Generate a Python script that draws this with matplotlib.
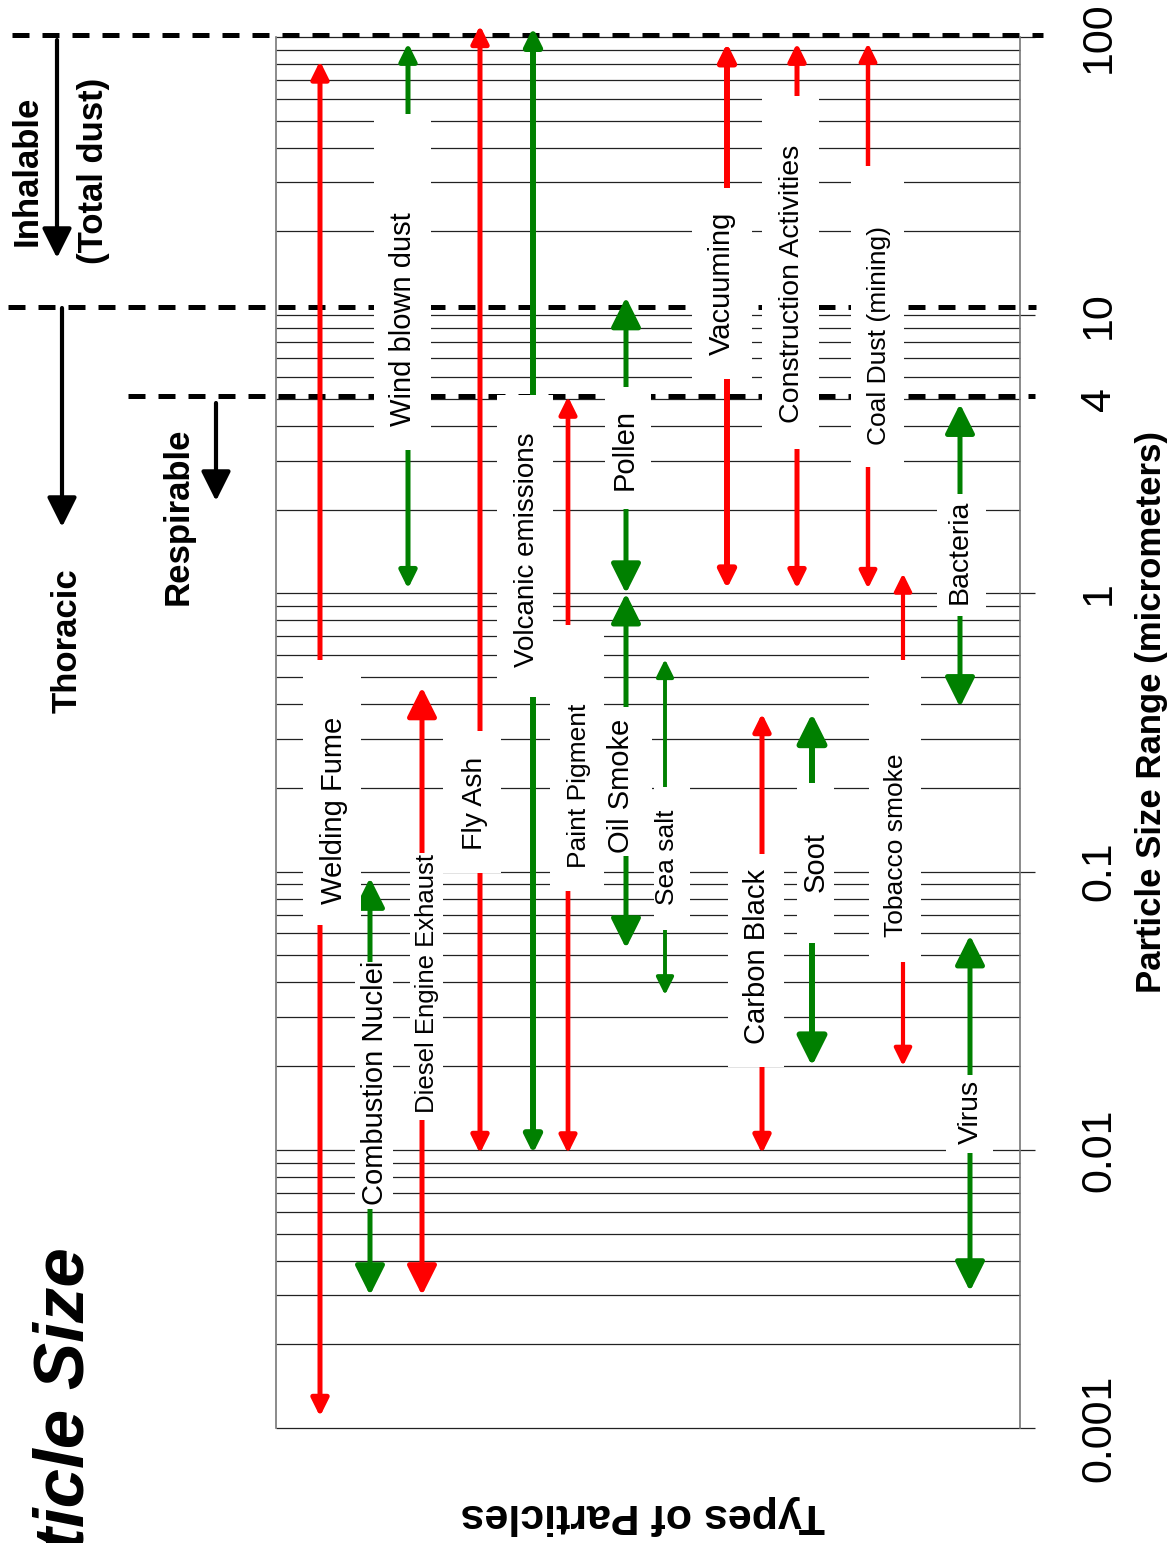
import numpy as np
import matplotlib
matplotlib.use('Agg')
import matplotlib.pyplot as plt
from matplotlib.patches import FancyArrowPatch, Rectangle
from matplotlib.ticker import NullLocator

plt.rcParams['font.family'] = ['Liberation Sans', 'DejaVu Sans']

# particle types and their size range (micrometers)
names = ['Welding Fume', 'Combustion Nuclei', 'Wind blown dust', 'Diesel Engine Exhaust',
         'Fly Ash', 'Volcanic emissions', 'Paint Pigment', 'Pollen', 'Oil Smoke', 'Sea salt',
         'Vacuuming', 'Construction Activities', 'Coal Dust (mining)', 'Carbon Black',
         'Soot', 'Tobacco smoke', 'Bacteria', 'Virus']
size_max = [82, 0.095, 95, 0.46, 110, 108, 5.1, 11.6, 1.0, 0.58,
            95, 95, 95, 0.37, 0.37, 1.18, 4.8, 0.059]
size_min = [0.0011, 0.003, 1.04, 0.003, 0.0097, 0.0097, 0.0097, 1.0, 0.053, 0.036,
            1.04, 1.04, 1.04, 0.0097, 0.02, 0.02, 0.39, 0.0031]
kind = ['r', 'g', 'g', 'r', 'r', 'g', 'r', 'g', 'g', 'g',
        'r', 'r', 'r', 'r', 'g', 'r', 'g', 'g']

# size fractions
zone_vals = [102, 10.7, 5.12]
tick_vals = [100, 10, 5, 1, 0.1, 0.01, 0.001]
tick_text = ['100', '10', '4', '1', '0.1', '0.01', '0.001']

# ---- layout (pixel-like x positions, label placement) ----
col_x = [320, 370, 408, 422, 480, 533, 568, 626, 626, 665, 727, 797, 868, 762, 812, 903, 960, 970]
big_head = [0, 1, 0, 1, 0, 0, 0, 1, 1, 0, 0, 0, 0, 0, 1, 0, 1, 1]
line_w = [3.6, 3.6, 3.6, 3.6, 3.6, 4.3, 3.4, 3.6, 3.6, 2.8, 4.3, 3.6, 3.2, 3.6, 4.3, 3.0, 3.6, 3.6]
lab_x = [334, 375, 403, 427, 475, 527, 579, 625, 621, 667, 722, 792, 879, 757, 816, 896, 960, 971]
lab_y = [810, 1083, 319, 984, 803, 550, 786, 450, 786, 857, 283, 284, 336, 957, 862, 845, 552, 1112]
lab_fs = [21, 21, 21, 18.5, 20.5, 20, 19, 21, 21, 19, 21, 20.5, 19, 21, 21, 19, 20.5, 20.5]
# white boxes behind labels: top, bottom, left, right (pixels)
boxes = [(660, 925, 303, 361), (962, 1209, 355, 393), (114, 450, 374, 431), (853, 1120, 410, 443),
         (731, 873, 443, 501), (395, 697, 497, 553), (625, 891, 550, 604), (387, 509, 605, 651),
         (707, 856, 604, 652), (787, 930, 654, 690), (188, 379, 692, 752), (96, 449, 762, 819),
         (166, 467, 851, 904), (854, 1067, 728, 784), (783, 943, 797, 834), (660, 962, 869, 921),
         (494, 616, 937, 986), (1075, 1153, 946, 993)]

colour = {'r': '#ff0000', 'g': '#008000'}


def py(y):
    # pixel row -> particle size on the log axis
    return 10 ** (2 - (y - 37) / 278.2)


fig = plt.figure(figsize=(11.7, 15.43), dpi=100)
ax = fig.add_axes([276 / 1170, 1 - 1428 / 1543, (1020 - 276) / 1170, (1428 - 37) / 1543])
ax.set_yscale('log')
ax.set_ylim(0.001, 100)
ax.set_xlim(276, 1020)
ax.xaxis.set_major_locator(NullLocator())
ax.yaxis.set_major_locator(NullLocator())
ax.yaxis.set_minor_locator(NullLocator())
for s in ['top', 'bottom']:
    ax.spines[s].set_visible(False)
for s in ['left', 'right']:
    ax.spines[s].set_color('#777777')
    ax.spines[s].set_linewidth(1.2)

# grid lines at 1..9 of every decade
for dec in [0.001, 0.01, 0.1, 1, 10]:
    for m in range(1, 10):
        ax.hlines(dec * m, 276, 1035 if m == 1 else 1020, color='#222222', lw=0.9,
                  zorder=1, clip_on=False)
ax.hlines(100, 276, 1035, color='#222222', lw=0.9, zorder=1, clip_on=False)

# dashed fraction limits
for val, x0, x1 in zip(zone_vals, [12, 8, 128], [1043, 1036, 1035]):
    ax.plot([x0, x1], [val, val], color='k', lw=3.6, dashes=(3.4, 2.6),
            clip_on=False, zorder=2, solid_capstyle='butt', dash_capstyle='butt')

# range arrows
for i in range(len(names)):
    hl, hw = (18, 9) if big_head[i] else (10.5, 5.2)
    arr = FancyArrowPatch((col_x[i], size_min[i]), (col_x[i], size_max[i]),
                          arrowstyle='<|-|>,head_length=%g,head_width=%g' % (hl, hw),
                          mutation_scale=1, color=colour[kind[i]], lw=line_w[i],
                          shrinkA=0, shrinkB=0, zorder=3, clip_on=False)
    ax.add_patch(arr)
    t, b, l, r = boxes[i]
    ax.add_patch(Rectangle((l, py(b)), r - l, py(t) - py(b), facecolor='white',
                           edgecolor='none', zorder=4, clip_on=False))
    ax.text(lab_x[i], py(lab_y[i]), names[i], rotation=90, ha='center', va='center',
            fontsize=lab_fs[i], zorder=5)

# inhalable / thoracic / respirable
for x, y0, y1 in [(57, 40, 258), (62, 308, 527), (216, 403, 501)]:
    arr = FancyArrowPatch((x, py(y0)), (x, py(y1)),
                          arrowstyle='-|>,head_length=18,head_width=9',
                          mutation_scale=1, color='k', lw=3, shrinkA=0, shrinkB=0,
                          clip_on=False, zorder=3)
    ax.add_patch(arr)
for txt, x, y in [('Inhalable', 27, 171), ('(Total dust)', 93, 171),
                  ('Thoracic', 67, 641), ('Respirable', 178, 516)]:
    ax.text(x, py(y), txt, rotation=90, ha='center', va='center', fontsize=25,
            fontweight='bold')

# size axis labels
for v, s in zip(tick_vals, tick_text):
    ax.text(1099, v, s, rotation=90, ha='center', va='center', fontsize=31)
ax.text(1151, py(712), 'Particle Size Range (micrometers)', rotation=90, ha='center',
        va='center', fontsize=25, fontweight='bold')
ax.text(643, py(1515), 'Types of Particles', rotation=180, ha='center', va='center',
        fontsize=31, fontweight='bold')
ax.text(84, py(1247), 'Particle Size', rotation=90, ha='right', va='baseline',
        rotation_mode='anchor', fontsize=51, fontweight='bold', fontstyle='italic')

fig.savefig('out.png', dpi=100)
